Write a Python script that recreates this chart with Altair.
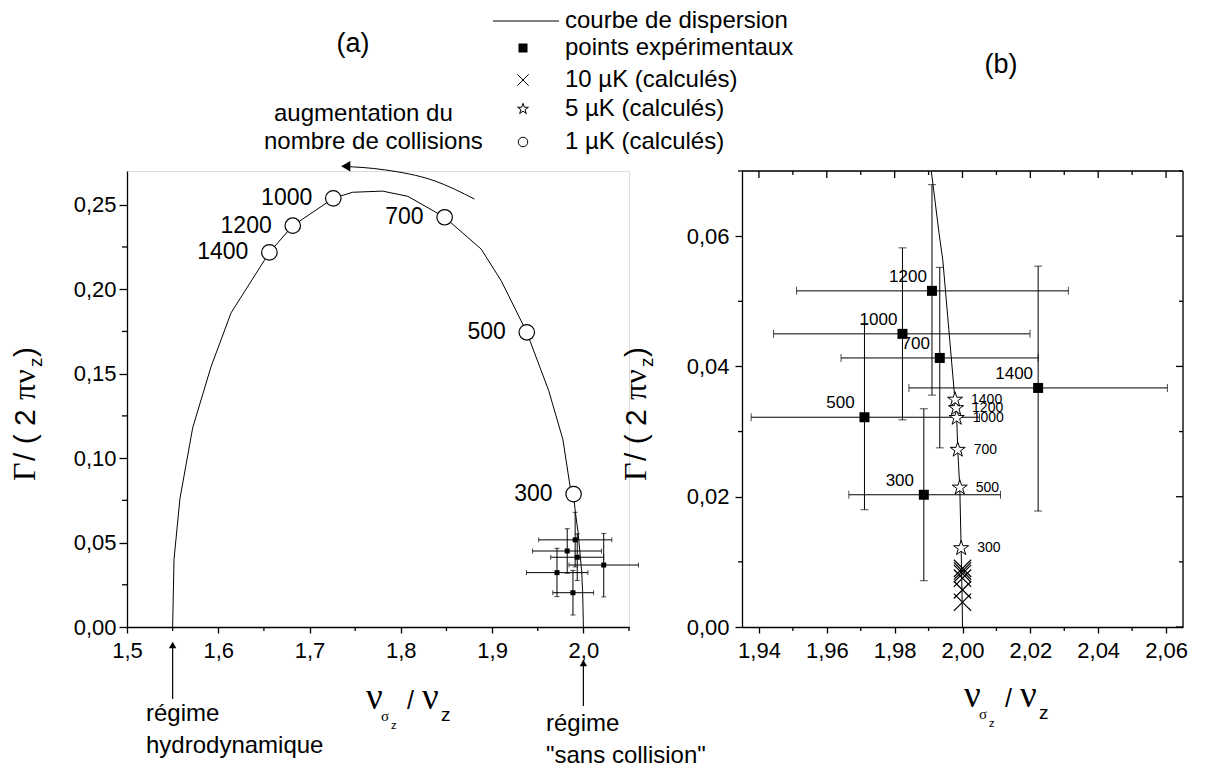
import altair as alt
import pandas as pd

SANS = "Liberation Sans"
SERIF = "Liberation Serif"

# ---------------- data ----------------
T = [300, 500, 700, 1000, 1200, 1400]

# dispersion curve (shared by both panels)
curve_x = [1.5500, 1.5515, 1.5580, 1.5660, 1.5720, 1.5920, 1.6140, 1.6560, 1.6816,
           1.7260, 1.7470, 1.7800, 1.8077, 1.8480, 1.8880, 1.9100, 1.9380, 1.9620,
           1.9776, 1.9855, 1.9893, 1.9908, 1.9931, 1.9942, 1.9976, 1.9978, 1.9981,
           1.9983, 1.9986, 1.9992, 1.9996, 1.9999, 2.0000]
curve_y = [0.0000, 0.0400, 0.0760, 0.1000, 0.1180, 0.1540, 0.1860, 0.2218, 0.2376,
           0.2538, 0.2574, 0.2581, 0.2550, 0.2426, 0.2238, 0.2050, 0.1745, 0.1400,
           0.1110, 0.0830, 0.0787, 0.0700, 0.0604, 0.0563, 0.0359, 0.0349, 0.0336,
           0.0321, 0.0272, 0.0214, 0.0121, 0.0040, 0.0000]

# 1 uK computed points
c1_x = [1.9893, 1.9380, 1.8480, 1.7260, 1.6816, 1.6560]
c1_y = [0.0787, 0.1745, 0.2426, 0.2538, 0.2376, 0.2218]
# 5 uK computed points
s5_x = [1.9996, 1.9992, 1.9986, 1.9983, 1.9981, 1.9978]
s5_y = [0.0121, 0.0214, 0.0272, 0.0321, 0.0336, 0.0349]
# 10 uK computed points
k10_x = [2.0000, 2.0000, 2.0000, 2.0000, 2.0000, 2.0000]
k10_y = [0.0038, 0.0057, 0.0075, 0.0082, 0.0086, 0.0090]

# experimental points
exp_x = [1.9886, 1.9711, 1.9933, 1.9823, 1.9910, 2.0223]
exp_y = [0.0203, 0.0322, 0.0413, 0.0450, 0.0516, 0.0367]
exp_xlo = [1.9665, 1.9377, 1.9642, 1.9443, 1.9511, 1.9842]
exp_xhi = [2.0112, 2.0050, 2.0223, 2.0199, 2.0312, 2.0604]
exp_ylo = [0.0071, 0.0180, 0.0275, 0.0318, 0.0356, 0.0178]
exp_yhi = [0.0335, 0.0466, 0.0552, 0.0582, 0.0679, 0.0554]

# annotation arrow ("augmentation du nombre de collisions")
arc_x = [1.8807, 1.8368, 1.7820, 1.7353]
arc_y = [0.2534, 0.2642, 0.2707, 0.2728]
regime_x = [1.55, 2.00]

# ticks
a_x_major = [1.5, 1.6, 1.7, 1.8, 1.9, 2.0]
a_x_minor = [1.55, 1.65, 1.75, 1.85, 1.95, 2.05]
a_y_major = [0.0, 0.05, 0.10, 0.15, 0.20, 0.25]
a_y_minor = [0.025, 0.075, 0.125, 0.175, 0.225]
b_x_major = [1.94, 1.96, 1.98, 2.00, 2.02, 2.04, 2.06]
b_x_minor = [1.95, 1.97, 1.99, 2.01, 2.03, 2.05]
b_y_major = [0.0, 0.02, 0.04, 0.06]
b_y_minor = [0.01, 0.03, 0.05, 0.07]

legend_labels = ["courbe de dispersion", "points expérimentaux", "10 µK (calculés)",
                 "5 µK (calculés)", "1 µK (calculés)"]

# ---------------- geometry ----------------
WA, WB, H = 502, 441, 456

curve_df = pd.DataFrame({"x": curve_x, "y": curve_y, "i": list(range(len(curve_x)))})
c1_df = pd.DataFrame({"x": c1_x, "y": c1_y, "T": [str(t) for t in T]})
s5_df = pd.DataFrame({"x": s5_x, "y": s5_y, "T": [str(t) for t in T]})
k10_df = pd.DataFrame({"x": k10_x, "y": k10_y})
exp_df = pd.DataFrame({"x": exp_x, "y": exp_y, "xlo": exp_xlo, "xhi": exp_xhi,
                       "ylo": exp_ylo, "yhi": exp_yhi, "T": [str(t) for t in T]})
arc_df = pd.DataFrame({"x": arc_x, "y": arc_y, "i": list(range(len(arc_x)))})
tip_df = pd.DataFrame({"x": [arc_x[-1]], "y": [arc_y[-1]]})
ONE = alt.Data(values=[{"k": 0}])

CROSS = "M-1,-1L1,1M-1,1L1,-1"
STAR = ("M0,-1L0.2245,-0.309L0.951,-0.309L0.3633,0.118L0.5878,0.809L0,0.382"
        "L-0.5878,0.809L-0.3633,0.118L-0.951,-0.309L-0.2245,-0.309Z")


def mk_axis(values, fmt, tsize, pad):
    return alt.Axis(values=values, title=None, grid=False, labelFlush=False,
                    labelOverlap=False,
                    labelExpr=f"replace(format(datum.value, '{fmt}'), '.', ',')",
                    tickSize=tsize,
                    labelFontSize=22, labelFont=SANS, labelColor="black", labelPadding=pad,
                    domainColor="black", domainWidth=1.3, tickColor="black", tickWidth=1.3)


xsA = alt.Scale(domain=[1.5, 2.05], nice=False, zero=False)
ysA = alt.Scale(domain=[0, 0.27], nice=False, zero=False)
axXA = mk_axis(a_x_major, ".1f", 6, 7)
axYA = mk_axis(a_y_major, ".2f", 8, 3)

xsB = alt.Scale(domain=[1.935, 2.065], nice=False, zero=False)
ysB = alt.Scale(domain=[0, 0.07], nice=False, zero=False)
axXB = mk_axis(b_x_major, ".2f", 6, 7)
axYB = mk_axis(b_y_major, ".2f", 7, 6)


def XA(f):
    return alt.X(f, type="quantitative", scale=xsA, axis=axXA)


def YA(f):
    return alt.Y(f, type="quantitative", scale=ysA, axis=axYA)


def XB(f):
    return alt.X(f, type="quantitative", scale=xsB, axis=axXB)


def YB(f):
    return alt.Y(f, type="quantitative", scale=ysB, axis=axYB)


def txt(s, x, y, size=24, font=SANS, align="left", baseline="middle", angle=0):
    return alt.Chart(ONE).mark_text(text=s, fontSize=size, font=font, align=align,
                                    baseline=baseline, angle=angle, color="black").encode(
        x=alt.value(x), y=alt.value(y))


def ytitle(bx, y0):
    # rotated "Γ / ( 2πν_z )"
    return [
        txt("Γ", bx, y0, 32, SERIF, "left", "alphabetic", 270),
        txt(" / ( 2", bx, y0 - 20, 30, SANS, "left", "alphabetic", 270),
        txt("πν", bx, y0 - 81, 32, SERIF, "left", "alphabetic", 270),
        txt("z", bx + 7, y0 - 114, 19, SANS, "left", "alphabetic", 270),
        txt(" )", bx, y0 - 124, 30, SANS, "left", "alphabetic", 270),
    ]


def xtitle(x0, yb):
    # "ν_σz / ν_z"
    return [
        txt("ν", x0, yb, 37, SERIF, "left", "alphabetic"),
        txt("σ", x0 + 15, yb + 12, 15, SERIF, "left", "alphabetic"),
        txt("z", x0 + 25, yb + 20, 11, SANS, "left", "alphabetic"),
        txt("/", x0 + 41, yb, 25, SANS, "left", "alphabetic"),
        txt("ν", x0 + 56, yb, 37, SERIF, "left", "alphabetic"),
        txt("z", x0 + 75, yb + 12, 19, SANS, "left", "alphabetic"),
    ]


def minor_x(vals, X, y0, y1):
    return alt.Chart(pd.DataFrame({"v": vals})).mark_rule(color="black", strokeWidth=1.3).encode(
        x=X("v"), y=alt.value(y0), y2=alt.value(y1))


def minor_y(vals, Y, x0, x1):
    return alt.Chart(pd.DataFrame({"v": vals})).mark_rule(color="black", strokeWidth=1.3).encode(
        y=Y("v"), x=alt.value(x0), x2=alt.value(x1))


# ---------------- panel (a) ----------------
a_curve = alt.Chart(curve_df).mark_line(color="black", strokeWidth=1).encode(
    x=XA("x"), y=YA("y"), order="i:Q")
a_hbar = alt.Chart(exp_df).mark_rule(color="black", strokeWidth=1).encode(
    x=XA("xlo"), x2="xhi", y=YA("y"))
a_vbar = alt.Chart(exp_df).mark_rule(color="black", strokeWidth=1).encode(
    x=XA("x"), y=YA("ylo"), y2="yhi")
a_hcap = alt.Chart(exp_df).transform_fold(["xlo", "xhi"], as_=["k", "xc"]).mark_tick(
    orient="vertical", size=5, thickness=1, color="black").encode(x=XA("xc:Q"), y=YA("y"))
a_vcap = alt.Chart(exp_df).transform_fold(["ylo", "yhi"], as_=["k", "yc"]).mark_tick(
    orient="horizontal", size=5, thickness=1, color="black").encode(x=XA("x"), y=YA("yc:Q"))
a_sq = alt.Chart(exp_df).mark_point(shape="square", filled=True, color="black", size=25,
                                    opacity=1).encode(x=XA("x"), y=YA("y"))
a_circ = alt.Chart(c1_df).mark_point(shape="circle", filled=True, fill="white",
                                     stroke="black", strokeWidth=1.2, size=240,
                                     opacity=1).encode(x=XA("x"), y=YA("y"))
a_clab = alt.Chart(c1_df).mark_text(align="right", baseline="middle", dx=-21, fontSize=23,
                                    font=SANS, color="black").encode(
    x=XA("x"), y=YA("y"), text="T:N")
a_arc = alt.Chart(arc_df).mark_line(color="black", strokeWidth=1, interpolate="monotone").encode(
    x=XA("x"), y=YA("y"), order="i:Q")
a_tip = alt.Chart(tip_df).mark_point(shape="triangle-left", filled=True, color="black",
                                     size=110, opacity=1, xOffset=4).encode(x=XA("x"), y=YA("y"))
reg1 = pd.DataFrame({"x": [regime_x[0]]})
reg2 = pd.DataFrame({"x": [regime_x[1]]})
a_reg = [
    alt.Chart(reg1).mark_rule(color="black", strokeWidth=1.2).encode(
        x=XA("x"), y=alt.value(472), y2=alt.value(528)),
    alt.Chart(reg1).mark_point(shape="triangle-up", filled=True, color="black", size=55,
                               opacity=1).encode(x=XA("x"), y=alt.value(474)),
    alt.Chart(reg2).mark_rule(color="black", strokeWidth=1.2).encode(
        x=XA("x"), y=alt.value(490), y2=alt.value(535)),
    alt.Chart(reg2).mark_point(shape="triangle-up", filled=True, color="black", size=55,
                               opacity=1).encode(x=XA("x"), y=alt.value(492)),
]

# legend (placed in panel (a) coordinates, above the plot)
LX_SYM, LX_TXT = 396, 438
LY = [-150, -123, -91, -62, -29]
leg = [
    alt.Chart(ONE).mark_rule(color="black", strokeWidth=1).encode(
        x=alt.value(366), x2=alt.value(432), y=alt.value(LY[0])),
    alt.Chart(ONE).mark_point(shape="square", filled=True, color="black", size=81,
                              opacity=1).encode(x=alt.value(LX_SYM), y=alt.value(LY[1])),
    alt.Chart(ONE).mark_point(shape=CROSS, filled=False, color="black", size=130,
                              strokeWidth=1, opacity=1).encode(x=alt.value(LX_SYM), y=alt.value(LY[2])),
    alt.Chart(ONE).mark_point(shape=STAR, filled=True, fill="white", stroke="black",
                              strokeWidth=1, size=130, opacity=1).encode(
        x=alt.value(LX_SYM), y=alt.value(LY[3])),
    alt.Chart(ONE).mark_point(shape="circle", filled=True, fill="white", stroke="black",
                              strokeWidth=1, size=90, opacity=1).encode(
        x=alt.value(LX_SYM), y=alt.value(LY[4])),
]
leg += [txt(s, LX_TXT, y, 24) for s, y in zip(legend_labels, LY)]

a_texts = [
    txt("(a)", 226, -127, 27, SANS, "center"),
    txt("augmentation du", 147, -57, 24),
    txt("nombre de collisions", 137, -29, 24),
    txt("régime", 19, 543, 24),
    txt("hydrodynamique", 19, 575, 24),
    txt("régime", 419, 553, 24),
    txt("\"sans collision\"", 419, 585, 24),
]

panelA = alt.layer(
    a_curve, a_hbar, a_vbar, a_hcap, a_vcap, a_sq, a_circ, a_clab, a_arc, a_tip,
    *a_reg,
    minor_x(a_x_minor, XA, H, H + 4), minor_y(a_y_minor, YA, 0, -5),
    *leg, *a_texts, *ytitle(-92, 310), *xtitle(239, 538)
).properties(width=WA, height=H)

# ---------------- panel (b) ----------------
b_curve = alt.Chart(curve_df).mark_line(color="black", strokeWidth=1, clip=True).encode(
    x=XB("x"), y=YB("y"), order="i:Q")
b_hbar = alt.Chart(exp_df).mark_rule(color="black", strokeWidth=1).encode(
    x=XB("xlo"), x2="xhi", y=YB("y"))
b_vbar = alt.Chart(exp_df).mark_rule(color="black", strokeWidth=1).encode(
    x=XB("x"), y=YB("ylo"), y2="yhi")
b_hcap = alt.Chart(exp_df).transform_fold(["xlo", "xhi"], as_=["k", "xc"]).mark_tick(
    orient="vertical", size=8, thickness=1, color="black").encode(x=XB("xc:Q"), y=YB("y"))
b_vcap = alt.Chart(exp_df).transform_fold(["ylo", "yhi"], as_=["k", "yc"]).mark_tick(
    orient="horizontal", size=8, thickness=1, color="black").encode(x=XB("x"), y=YB("yc:Q"))
b_sq = alt.Chart(exp_df).mark_point(shape="square", filled=True, color="black", size=100,
                                    opacity=1).encode(x=XB("x"), y=YB("y"))
b_sqlab = alt.Chart(exp_df).mark_text(align="center", baseline="middle", dx=-24, dy=-14,
                                      fontSize=17, font=SANS, color="black").encode(
    x=XB("x"), y=YB("y"), text="T:N")
b_star = alt.Chart(s5_df).mark_point(shape=STAR, filled=True, fill="white", stroke="black",
                                     strokeWidth=1, size=250, opacity=1).encode(
    x=XB("x"), y=YB("y"))
b_starlab = alt.Chart(s5_df).mark_text(align="left", baseline="middle", dx=16, fontSize=14,
                                       font=SANS, color="black").encode(
    x=XB("x"), y=YB("y"), text="T:N")
b_cross = alt.Chart(k10_df).mark_point(shape=CROSS, filled=False, color="black", size=300,
                                       strokeWidth=1.2, opacity=1).encode(x=XB("x"), y=YB("y"))

b_ticks = [
    minor_x(b_x_minor, XB, H, H + 4),
    minor_y(b_y_minor, YB, 0, -4),
    minor_x(b_x_major, XB, 0, 7),
    minor_x(b_x_minor, XB, 0, 4),
    minor_y(b_y_major, YB, WB, WB - 7),
    minor_y(b_y_minor, YB, WB, WB - 4),
    # frame (top and right edges)
    alt.Chart(ONE).mark_rule(color="black", strokeWidth=1.3).encode(
        x=alt.value(0), x2=alt.value(WB), y=alt.value(0)),
    alt.Chart(ONE).mark_rule(color="black", strokeWidth=1.3).encode(
        x=alt.value(WB), y=alt.value(0), y2=alt.value(H)),
]

panelB = alt.layer(
    b_curve, b_hbar, b_vbar, b_hcap, b_vcap, b_sq, b_sqlab, b_star, b_starlab, b_cross,
    *b_ticks, txt("(b)", 259, -106, 27, SANS, "center"),
    *ytitle(-96, 310), *xtitle(222, 536)
).properties(width=WB, height=H)

chart = alt.hconcat(panelA, panelB, spacing=113, bounds="flush").properties(
    padding={"left": 0, "top": 0, "right": 0, "bottom": 0}
).configure_view(stroke=None).configure(background="white")

chart.save("out.html", embed_options={"renderer": "svg", "actions": False})
